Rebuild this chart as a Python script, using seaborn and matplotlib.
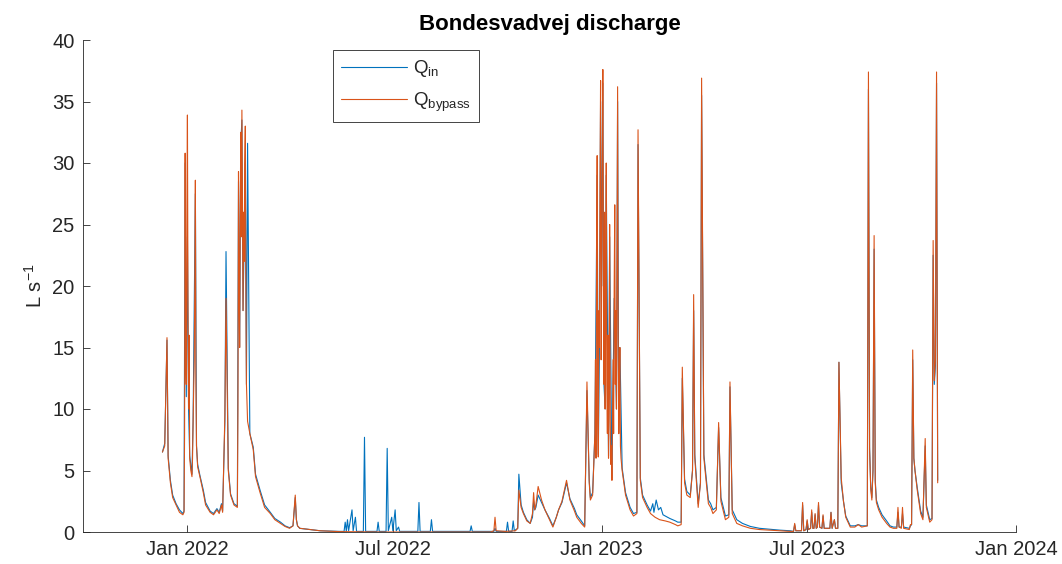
import matplotlib
matplotlib.use("Agg")
import matplotlib.pyplot as plt
import matplotlib.dates as mdates
from matplotlib.lines import Line2D
import pandas as pd
import seaborn as sns

# ---- inflow to the installation (L/s) ----
q_in_dates = [
    "2021-12-10", "2021-12-12", "2021-12-14", "2021-12-15", "2021-12-17", "2021-12-19", "2021-12-22",
    "2021-12-25", "2021-12-28", "2021-12-29", "2021-12-30", "2021-12-31", "2022-01-01", "2022-01-02",
    "2022-01-03", "2022-01-05", "2022-01-06", "2022-01-08", "2022-01-09", "2022-01-10", "2022-01-12",
    "2022-01-15", "2022-01-17", "2022-01-21", "2022-01-24", "2022-01-27", "2022-01-29", "2022-01-31",
    "2022-02-01", "2022-02-03", "2022-02-04", "2022-02-06", "2022-02-08", "2022-02-11", "2022-02-14",
    "2022-02-15", "2022-02-16", "2022-02-17", "2022-02-18", "2022-02-19", "2022-02-21", "2022-02-22",
    "2022-02-23", "2022-02-25", "2022-02-28", "2022-03-02", "2022-03-06", "2022-03-10", "2022-03-15",
    "2022-03-19", "2022-03-24", "2022-03-28", "2022-04-01", "2022-04-04", "2022-04-06", "2022-04-07",
    "2022-04-08", "2022-04-10", "2022-04-19", "2022-04-28", "2022-05-15", "2022-05-19", "2022-05-20",
    "2022-05-21", "2022-05-22", "2022-05-23", "2022-05-26", "2022-05-27", "2022-05-29", "2022-05-30",
    "2022-06-05", "2022-06-06", "2022-06-07", "2022-06-17", "2022-06-18", "2022-06-19", "2022-06-25",
    "2022-06-26", "2022-06-27", "2022-06-30", "2022-07-01", "2022-07-03", "2022-07-04", "2022-07-06",
    "2022-07-07", "2022-07-23", "2022-07-24", "2022-07-25", "2022-08-03", "2022-08-04", "2022-08-05",
    "2022-09-07", "2022-09-08", "2022-09-09", "2022-09-28", "2022-09-29", "2022-09-30", "2022-10-09",
    "2022-10-10", "2022-10-11", "2022-10-14", "2022-10-15", "2022-10-16", "2022-10-19", "2022-10-20",
    "2022-10-22", "2022-10-24", "2022-10-27", "2022-10-30", "2022-11-01", "2022-11-02", "2022-11-03",
    "2022-11-04", "2022-11-06", "2022-11-09", "2022-11-12", "2022-11-16", "2022-11-19", "2022-11-22",
    "2022-11-24", "2022-11-27", "2022-12-01", "2022-12-04", "2022-12-08", "2022-12-10", "2022-12-14",
    "2022-12-17", "2022-12-19", "2022-12-21", "2022-12-22", "2022-12-24", "2022-12-26", "2022-12-28",
    "2022-12-29", "2022-12-30", "2022-12-31", "2023-01-01", "2023-01-02", "2023-01-03", "2023-01-04",
    "2023-01-05", "2023-01-07", "2023-01-08", "2023-01-10", "2023-01-12", "2023-01-14", "2023-01-15",
    "2023-01-16", "2023-01-17", "2023-01-19", "2023-01-22", "2023-01-26", "2023-01-29", "2023-02-01",
    "2023-02-02", "2023-02-04", "2023-02-06", "2023-02-10", "2023-02-13", "2023-02-15", "2023-02-16",
    "2023-02-18", "2023-02-20", "2023-02-22", "2023-02-24", "2023-02-26", "2023-03-02", "2023-03-07",
    "2023-03-09", "2023-03-12", "2023-03-13", "2023-03-15", "2023-03-17", "2023-03-20", "2023-03-22",
    "2023-03-23", "2023-03-24", "2023-03-27", "2023-03-29", "2023-03-30", "2023-04-01", "2023-04-05",
    "2023-04-07", "2023-04-09", "2023-04-12", "2023-04-14", "2023-04-16", "2023-04-20", "2023-04-23",
    "2023-04-24", "2023-04-26", "2023-04-30", "2023-05-05", "2023-05-12", "2023-05-20", "2023-06-07",
    "2023-06-16", "2023-06-19", "2023-06-20", "2023-06-21", "2023-06-26", "2023-06-27", "2023-06-28",
    "2023-06-30", "2023-07-01", "2023-07-02", "2023-07-04", "2023-07-05", "2023-07-06", "2023-07-07",
    "2023-07-08", "2023-07-09", "2023-07-10", "2023-07-11", "2023-07-12", "2023-07-14", "2023-07-15",
    "2023-07-16", "2023-07-21", "2023-07-22", "2023-07-23", "2023-07-25", "2023-07-26", "2023-07-28",
    "2023-07-29", "2023-07-31", "2023-08-02", "2023-08-04", "2023-08-08", "2023-08-12", "2023-08-15",
    "2023-08-18", "2023-08-23", "2023-08-24", "2023-08-25", "2023-08-26", "2023-08-27", "2023-08-28",
    "2023-08-29", "2023-08-30", "2023-08-31", "2023-09-02", "2023-09-05", "2023-09-09", "2023-09-12",
    "2023-09-15", "2023-09-18", "2023-09-19", "2023-09-20", "2023-09-22", "2023-09-23", "2023-09-24",
    "2023-09-29", "2023-09-30", "2023-10-01", "2023-10-02", "2023-10-03", "2023-10-04", "2023-10-06",
    "2023-10-09", "2023-10-11", "2023-10-13", "2023-10-14", "2023-10-17", "2023-10-19", "2023-10-20",
    "2023-10-21", "2023-10-22", "2023-10-23", "2023-10-24",
]
q_in_values = [
    6.5, 7.2, 15.6, 6.2, 4.2, 3.0, 2.3,
    1.8, 1.5, 1.7, 30.0, 11.0, 24.0, 10.0,
    6.2, 4.7, 9.0, 27.5, 7.0, 5.5, 4.6,
    3.4, 2.4, 1.7, 1.5, 1.9, 1.6, 2.3,
    1.7, 9.0, 22.8, 5.2, 3.1, 2.3, 2.1,
    28.5, 15.0, 31.5, 33.5, 18.0, 30.0, 12.0,
    31.6, 8.0, 6.9, 4.7, 3.4, 2.2, 1.6,
    1.1, 0.8, 0.5, 0.35, 0.5, 2.8, 1.0,
    0.5, 0.3, 0.2, 0.1, 0.05, 0.05, 0.8,
    0.05, 1.0, 0.1, 1.8, 0.1, 1.2, 0.05,
    0.05, 7.7, 0.05, 0.05, 0.8, 0.05, 0.05,
    6.8, 0.1, 1.2, 0.1, 1.8, 0.1, 0.4,
    0.05, 0.05, 2.4, 0.05, 0.05, 1.0, 0.05,
    0.05, 0.5, 0.05, 0.05, 0.3, 0.05, 0.05,
    0.8, 0.05, 0.05, 0.9, 0.1, 0.3, 4.7,
    2.2, 1.6, 1.0, 0.7, 1.2, 2.5, 1.8,
    2.0, 3.0, 2.4, 1.8, 1.1, 0.5, 1.2,
    1.8, 2.4, 4.0, 2.7, 1.9, 1.4, 0.9,
    0.5, 11.5, 4.2, 2.8, 3.2, 8.0, 29.0,
    6.3, 15.0, 35.0, 20.0, 36.5, 12.0, 10.0,
    29.0, 6.2, 24.0, 4.4, 19.0, 10.0, 35.0,
    8.0, 15.0, 5.2, 3.2, 2.0, 1.5, 1.6,
    31.5, 4.4, 3.0, 2.2, 1.7, 2.3, 1.6,
    2.6, 1.8, 2.0, 1.4, 1.3, 1.1, 0.9,
    0.8, 0.8, 12.5, 4.3, 3.3, 3.0, 5.0,
    18.0, 6.3, 2.3, 4.0, 35.5, 6.3, 2.6,
    2.3, 1.8, 2.0, 8.5, 2.8, 1.3, 1.4,
    11.8, 1.8, 1.0, 0.7, 0.45, 0.3, 0.15,
    0.1, 0.05, 0.6, 0.1, 0.1, 2.2, 0.1,
    0.2, 0.9, 0.2, 0.3, 1.6, 0.3, 0.3,
    1.4, 0.3, 0.4, 2.2, 0.4, 0.3, 1.3,
    0.3, 0.3, 1.6, 0.3, 1.0, 0.3, 0.3,
    13.8, 4.0, 2.5, 1.3, 0.5, 0.5, 0.6,
    0.5, 0.5, 36.0, 6.9, 3.7, 2.8, 5.0,
    23.0, 4.2, 2.6, 2.0, 1.4, 0.9, 0.5,
    0.4, 0.4, 1.6, 0.4, 0.4, 1.5, 0.4,
    0.3, 0.5, 0.6, 14.0, 6.0, 5.0, 3.6,
    1.7, 1.2, 7.0, 2.2, 1.0, 1.1, 22.5,
    12.0, 13.5, 36.5, 4.2,
]

# ---- flow routed through the bypass (L/s); half-daily readings during storm runs ----
q_bypass_dates = [
    "2021-12-10", "2021-12-12", "2021-12-14", "2021-12-15", "2021-12-17",
    "2021-12-19", "2021-12-22", "2021-12-25", "2021-12-28", "2021-12-29",
    "2021-12-29 12:00", "2021-12-30", "2021-12-30 12:00", "2021-12-31", "2021-12-31 12:00",
    "2022-01-01", "2022-01-01 12:00", "2022-01-02", "2022-01-02 12:00", "2022-01-03",
    "2022-01-04", "2022-01-05", "2022-01-05 12:00", "2022-01-06", "2022-01-07",
    "2022-01-07 12:00", "2022-01-08", "2022-01-08 12:00", "2022-01-09", "2022-01-10",
    "2022-01-12", "2022-01-15", "2022-01-17", "2022-01-21", "2022-01-24",
    "2022-01-27", "2022-01-29", "2022-01-31", "2022-02-01", "2022-02-03",
    "2022-02-04", "2022-02-06", "2022-02-08", "2022-02-11", "2022-02-14",
    "2022-02-14 12:00", "2022-02-15", "2022-02-15 12:00", "2022-02-16", "2022-02-16 12:00",
    "2022-02-17", "2022-02-17 12:00", "2022-02-18", "2022-02-18 12:00", "2022-02-19",
    "2022-02-19 12:00", "2022-02-20", "2022-02-20 12:00", "2022-02-21", "2022-02-21 12:00",
    "2022-02-22", "2022-02-23", "2022-02-25", "2022-02-28", "2022-03-02",
    "2022-03-06", "2022-03-10", "2022-03-15", "2022-03-19", "2022-03-24",
    "2022-03-28", "2022-04-01", "2022-04-04", "2022-04-06", "2022-04-07",
    "2022-04-08", "2022-04-10", "2022-04-19", "2022-04-28", "2022-05-15",
    "2022-06-20", "2022-09-25", "2022-09-28", "2022-09-29", "2022-09-30",
    "2022-10-08", "2022-10-17", "2022-10-19", "2022-10-20", "2022-10-22",
    "2022-10-24", "2022-10-27", "2022-10-30", "2022-11-01", "2022-11-02",
    "2022-11-03", "2022-11-04", "2022-11-06", "2022-11-09", "2022-11-12",
    "2022-11-16", "2022-11-19", "2022-11-22", "2022-11-24", "2022-11-27",
    "2022-12-01", "2022-12-04", "2022-12-08", "2022-12-10", "2022-12-14",
    "2022-12-17", "2022-12-19", "2022-12-21", "2022-12-22", "2022-12-24",
    "2022-12-26", "2022-12-26 12:00", "2022-12-27", "2022-12-27 12:00", "2022-12-28",
    "2022-12-28 12:00", "2022-12-29", "2022-12-29 12:00", "2022-12-30", "2022-12-30 12:00",
    "2022-12-31", "2022-12-31 12:00", "2023-01-01", "2023-01-01 12:00", "2023-01-02",
    "2023-01-02 12:00", "2023-01-03", "2023-01-03 12:00", "2023-01-04", "2023-01-04 12:00",
    "2023-01-05", "2023-01-05 12:00", "2023-01-06", "2023-01-06 12:00", "2023-01-07",
    "2023-01-07 12:00", "2023-01-08", "2023-01-08 12:00", "2023-01-09", "2023-01-09 12:00",
    "2023-01-10", "2023-01-10 12:00", "2023-01-11", "2023-01-11 12:00", "2023-01-12",
    "2023-01-12 12:00", "2023-01-13", "2023-01-13 12:00", "2023-01-14", "2023-01-14 12:00",
    "2023-01-15", "2023-01-15 12:00", "2023-01-16", "2023-01-16 12:00", "2023-01-17",
    "2023-01-17 12:00", "2023-01-18", "2023-01-19", "2023-01-22", "2023-01-26",
    "2023-01-29", "2023-02-01", "2023-02-02", "2023-02-04", "2023-02-06",
    "2023-02-10", "2023-02-13", "2023-02-17", "2023-02-21", "2023-02-26",
    "2023-03-02", "2023-03-07", "2023-03-09", "2023-03-12", "2023-03-13",
    "2023-03-15", "2023-03-17", "2023-03-20", "2023-03-22", "2023-03-23",
    "2023-03-24", "2023-03-27", "2023-03-29", "2023-03-30", "2023-04-01",
    "2023-04-05", "2023-04-07", "2023-04-09", "2023-04-12", "2023-04-14",
    "2023-04-16", "2023-04-20", "2023-04-23", "2023-04-24", "2023-04-26",
    "2023-04-30", "2023-05-05", "2023-05-12", "2023-05-20", "2023-06-07",
    "2023-06-16", "2023-06-19", "2023-06-20", "2023-06-21", "2023-06-26",
    "2023-06-27", "2023-06-28", "2023-06-30", "2023-07-01", "2023-07-02",
    "2023-07-04", "2023-07-05", "2023-07-06", "2023-07-07", "2023-07-08",
    "2023-07-09", "2023-07-10", "2023-07-11", "2023-07-12", "2023-07-14",
    "2023-07-15", "2023-07-16", "2023-07-21", "2023-07-22", "2023-07-23",
    "2023-07-25", "2023-07-26", "2023-07-28", "2023-07-29", "2023-07-31",
    "2023-08-02", "2023-08-04", "2023-08-08", "2023-08-12", "2023-08-15",
    "2023-08-18", "2023-08-23", "2023-08-24", "2023-08-25", "2023-08-26",
    "2023-08-27", "2023-08-28", "2023-08-29", "2023-08-30", "2023-08-31",
    "2023-09-02", "2023-09-05", "2023-09-09", "2023-09-12", "2023-09-15",
    "2023-09-18", "2023-09-19", "2023-09-20", "2023-09-22", "2023-09-23",
    "2023-09-24", "2023-09-29", "2023-09-30", "2023-10-01", "2023-10-02",
    "2023-10-03", "2023-10-04", "2023-10-06", "2023-10-09", "2023-10-11",
    "2023-10-13", "2023-10-14", "2023-10-17", "2023-10-19", "2023-10-20",
    "2023-10-21", "2023-10-22", "2023-10-23", "2023-10-24",
]
q_bypass_values = [
    6.5, 7.0, 15.8, 6.0, 4.0,
    2.8, 2.2, 1.6, 1.4, 1.6,
    8.0, 30.8, 14.0, 12.0, 25.0,
    33.9, 18.0, 10.0, 16.0, 6.0,
    5.0, 4.5, 6.0, 9.0, 14.0,
    20.0, 28.6, 12.0, 7.0, 5.3,
    4.5, 3.2, 2.2, 1.6, 1.4,
    1.8, 1.5, 2.2, 1.6, 9.5,
    19.0, 5.0, 3.0, 2.2, 2.0,
    10.0, 29.3, 20.0, 15.0, 25.0,
    32.5, 24.0, 34.3, 26.0, 18.0,
    26.0, 22.0, 30.0, 33.0, 20.0,
    12.0, 9.0, 8.0, 6.7, 4.5,
    3.2, 2.0, 1.5, 1.0, 0.7,
    0.45, 0.3, 0.5, 3.0, 1.0,
    0.5, 0.3, 0.2, 0.1, 0.03,
    0.0, 0.0, 0.1, 1.2, 0.1,
    0.05, 0.1, 0.3, 3.4, 2.0,
    1.5, 0.9, 0.7, 1.5, 3.2,
    1.8, 2.2, 3.7, 2.6, 1.8,
    1.0, 0.4, 1.2, 1.8, 2.5,
    4.2, 2.6, 1.7, 1.2, 0.7,
    0.4, 12.2, 4.0, 2.6, 3.0,
    8.0, 14.0, 6.0, 22.0, 30.6,
    9.0, 6.1, 18.0, 15.0, 28.0,
    36.7, 14.0, 20.0, 30.0, 37.6,
    22.0, 12.0, 26.0, 10.0, 18.0,
    30.0, 12.0, 8.0, 16.0, 6.0,
    12.0, 25.0, 9.0, 5.5, 7.0,
    4.2, 9.0, 14.0, 8.0, 20.0,
    26.6, 12.0, 18.0, 10.0, 22.0,
    36.2, 16.0, 8.0, 12.0, 15.0,
    7.0, 6.0, 5.0, 3.0, 1.8,
    1.3, 1.5, 32.7, 4.2, 2.8,
    2.0, 1.5, 1.2, 1.0, 0.9,
    0.8, 0.6, 0.5, 0.6, 13.4,
    4.0, 3.0, 2.8, 5.0, 19.3,
    6.0, 2.0, 4.0, 36.9, 6.0,
    2.3, 2.0, 1.5, 1.8, 8.9,
    2.5, 1.0, 1.2, 12.2, 1.5,
    0.7, 0.5, 0.3, 0.2, 0.1,
    0.05, 0.05, 0.7, 0.1, 0.1,
    2.4, 0.1, 0.2, 1.0, 0.2,
    0.3, 1.8, 0.3, 0.3, 1.5,
    0.3, 0.4, 2.4, 0.4, 0.3,
    1.4, 0.3, 0.3, 1.6, 0.3,
    1.0, 0.3, 0.3, 13.8, 4.4,
    2.5, 1.2, 0.4, 0.4, 0.6,
    0.4, 0.5, 37.4, 6.7, 3.5,
    2.6, 5.0, 24.1, 4.0, 2.4,
    1.8, 1.2, 0.7, 0.4, 0.3,
    0.3, 2.0, 0.4, 0.3, 2.0,
    0.3, 0.2, 0.6, 0.6, 14.8,
    6.0, 5.0, 3.4, 1.5, 1.0,
    7.6, 2.0, 0.8, 1.0, 23.7,
    12.3, 14.0, 37.4, 4.0,
]

series_names = ["Q_in", "Q_bypass"]
legend_labels = [r"Q$_{\mathrm{in}}$", r"Q$_{\mathrm{bypass}}$"]
series_colors = ["#0072BD", "#D95319"]
x_tick_dates = ["2022-01-01", "2022-07-01", "2023-01-01", "2023-07-01", "2024-01-01"]
x_range = ["2021-10-01", "2024-01-01"]
y_ticks = [0, 5, 10, 15, 20, 25, 30, 35, 40]

assert len(q_in_dates) == len(q_in_values)
assert len(q_bypass_dates) == len(q_bypass_values)

sns.set_style("ticks")
plt.rcParams["font.family"] = ["Liberation Sans", "DejaVu Sans"]
plt.rcParams["mathtext.fontset"] = "custom"
plt.rcParams["mathtext.rm"] = "Liberation Sans"
plt.rcParams["mathtext.it"] = "Liberation Sans:italic"
plt.rcParams["mathtext.bf"] = "Liberation Sans:bold"

df = pd.concat([
    pd.DataFrame({"date": pd.to_datetime(q_in_dates, format="ISO8601"),
                  "flow": q_in_values, "series": series_names[0]}),
    pd.DataFrame({"date": pd.to_datetime(q_bypass_dates, format="ISO8601"),
                  "flow": q_bypass_values, "series": series_names[1]}),
], ignore_index=True)

W, H = 1062, 564
fig = plt.figure(figsize=(W / 100, H / 100), dpi=100)
ax = fig.add_axes([83 / W, 1 - 532 / H, (1016 - 83) / W, (532 - 40) / H])

palette = dict(zip(series_names, series_colors))
sns.lineplot(data=df, x="date", y="flow", hue="series", hue_order=series_names,
             palette=palette, estimator=None, linewidth=0.8, legend=False, ax=ax)

axis_color = "#262626"
ax.set_xlim(pd.to_datetime(x_range[0]), pd.to_datetime(x_range[1]))
ax.set_ylim(y_ticks[0], y_ticks[-1])
ax.set_xticks(pd.to_datetime(x_tick_dates))
ax.xaxis.set_major_formatter(mdates.DateFormatter("%b %Y"))
ax.set_yticks(y_ticks)
ax.tick_params(direction="in", length=5, width=0.6, colors=axis_color, labelsize=14.5, pad=6)
for side in ("top", "right"):
    ax.spines[side].set_visible(False)
for side in ("left", "bottom"):
    ax.spines[side].set_color(axis_color)
    ax.spines[side].set_linewidth(0.6)

ax.set_xlabel("")
ax.set_ylabel(r"L s$^{-1}$", fontsize=14.5, color=axis_color)
ax.yaxis.set_label_coords((46 - 83) / (1016 - 83), 0.5)
ax.set_title("Bondesvadvej discharge", fontsize=16, fontweight="bold", color="black", pad=7)

handles = [Line2D([0], [0], color=c, lw=0.8) for c in series_colors]
leg = ax.legend(handles, legend_labels, loc="upper left",
                bbox_to_anchor=(333 / W, 1 - 50 / H), bbox_transform=fig.transFigure,
                frameon=True, fancybox=False, framealpha=1, edgecolor=axis_color,
                fontsize=13.5, handlelength=3.5, handletextpad=0.3, borderpad=0.45,
                labelspacing=0.6, borderaxespad=0)
leg.get_frame().set_linewidth(0.6)

fig.savefig("out.png", dpi=100)
